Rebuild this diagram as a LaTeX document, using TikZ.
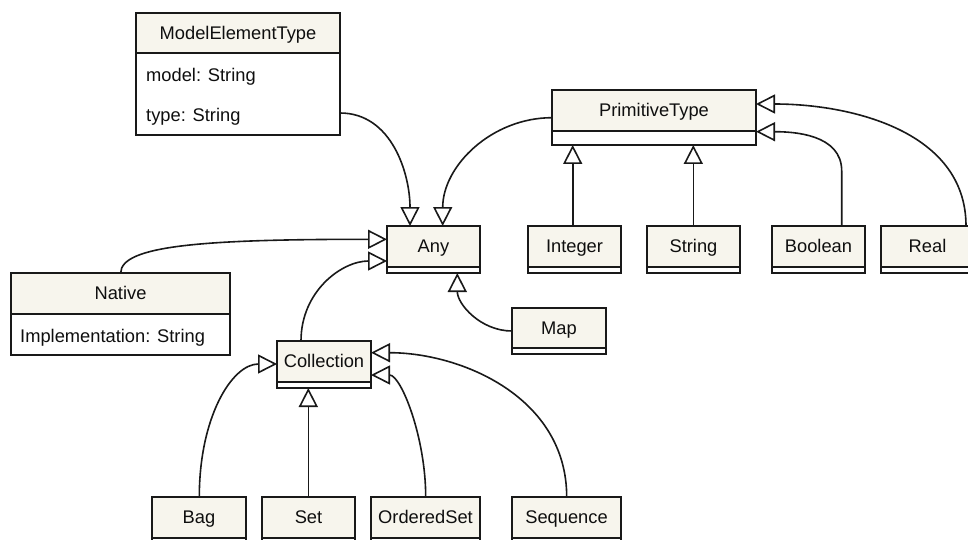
\documentclass[tikz,border=0pt]{standalone}
\usepackage{fontspec}
\setmainfont{Liberation Sans}
\usetikzlibrary{arrows.meta}

\definecolor{classfill}{RGB}{247,245,237}
\definecolor{classline}{RGB}{25,25,25}
\definecolor{classtext}{RGB}{15,15,15}

\tikzset{
  classbox/.style={draw=classline, fill=white, line width=1.7pt, inner sep=0pt,
    outer sep=0pt, anchor=north west},
  classhead/.style={draw=classline, fill=classfill, line width=1.7pt, inner sep=0pt,
    outer sep=0pt, anchor=north west, text=classtext,
    text height=12.9pt, text depth=0pt,
    font=\fontsize{18.3}{21}\selectfont},
  attr/.style={anchor=west, inner sep=0pt, text=classtext,
    text height=12.9pt, text depth=0pt,
    font=\fontsize{18.3}{21}\selectfont},
  gen/.style={draw=classline, line width=1.6pt,
    -{Triangle[open, length=19pt, width=19pt, fill=white]}},
}

% name, left, top, width, height, header height, title
\newcommand{\umlclass}[7]{%
  \node[classbox, minimum width=#4pt, minimum height=#5pt] (#1) at (#2,#3) {};
  \node[classhead, minimum width=#4pt, minimum height=#6pt] (#1-head) at (#2,#3) {#7};
}

\begin{document}
\begin{tikzpicture}[x=1pt, y=-1pt]
\path[use as bounding box, fill=white] (0,0) rectangle (968,540);

% classes
\umlclass{met}{136}{13}{204}{122}{40}{ModelElementType}
\node[attr] (met-model) at (146,75) {model: String};
\node[attr] (met-type) at (146,115) {type: String};

\umlclass{pt}{552}{90}{204}{55}{41}{PrimitiveType}
\umlclass{any}{387}{226}{93}{47}{41}{Any}
\umlclass{int}{528}{226}{93}{47}{41}{Integer}
\umlclass{str}{647}{226}{93}{47}{41}{String}
\umlclass{bool}{772}{226}{93}{47}{41}{Boolean}
\umlclass{real}{881}{226}{93}{47}{41}{Real}

\umlclass{nat}{11}{273}{219}{82}{41}{Native}
\node[attr] (nat-impl) at (20,336) {Implementation: String};

\umlclass{map}{512}{308}{94}{46}{40}{Map}
\umlclass{coll}{277}{341}{94}{47}{41}{Collection}

\umlclass{bag}{152}{497}{94}{47}{41}{Bag}
\umlclass{set}{262}{497}{93}{47}{41}{Set}
\umlclass{oset}{371}{497}{109}{47}{41}{OrderedSet}
\umlclass{seq}{512}{497}{109}{47}{41}{Sequence}

% generalizations into Any
\draw[gen] ([yshift=-100pt]met.north east) to[out=0, in=90] ([xshift=23pt]any.north west);
\draw[gen] ([yshift=-27.7pt]pt.north west) to[out=180, in=90] ([xshift=55.7pt]any.north west);
\draw[gen] ([xshift=109.7pt]nat.north west)
  to[out=90, in=180, out distance=28pt, in distance=180pt] ([yshift=-13.3pt]any.north west);
\draw[gen] ([xshift=24pt]coll.north west)
  to[out=90, in=180, out distance=50pt, in distance=45pt] ([yshift=-35pt]any.north west);
\draw[gen] ([yshift=-23pt]map.north west) to[out=180, in=-90] ([xshift=70.3pt]any.south west);

% generalizations into PrimitiveType
\draw[gen] ([xshift=44.7pt]int.north west) -- ([xshift=44.7pt]int.north west |- pt.south);
\draw[gen] ([xshift=46.3pt]str.north west) -- ([xshift=46.3pt]str.north west |- pt.south);
\draw[gen] ([xshift=69.7pt]bool.north west) -- ++(0,-55)
  to[out=90, in=0, out distance=37pt, in distance=37pt] ([yshift=-41.7pt]pt.north east);
\draw[gen] ([xshift=85pt]real.north west) to[out=90, in=0] ([yshift=-14pt]pt.north east);

% generalizations into Collection
\draw[gen] ([xshift=47.3pt]bag.north west)
  to[out=90, in=180, out distance=80pt, in distance=45pt] ([yshift=-23pt]coll.north west);
\draw[gen] ([xshift=46.3pt]set.north west) -- ([xshift=46.3pt]set.north west |- coll.south);
\draw[gen] ([xshift=54.7pt]oset.north west)
  to[out=90, in=0, out distance=60pt, in distance=30pt] ([yshift=-34pt]coll.north east);
\draw[gen] ([xshift=54.7pt]seq.north west)
  to[out=90, in=0, out distance=100pt, in distance=90pt] ([yshift=-11.7pt]coll.north east);
\end{tikzpicture}
\end{document}
